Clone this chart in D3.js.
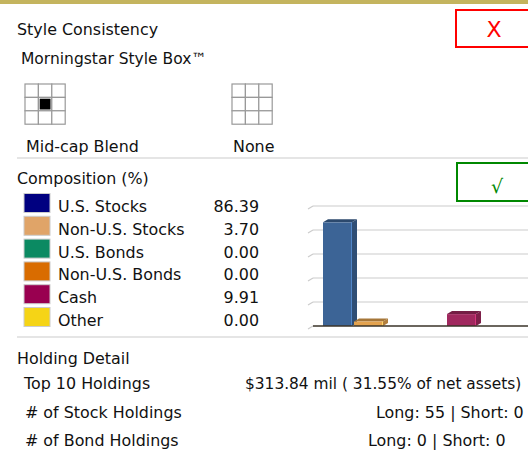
<!DOCTYPE html>
<html>
  <head>
    <meta charset="utf-8">
    <script src="https://cdn.jsdelivr.net/npm/d3@7/dist/d3.min.js"></script>
    <style>
      body { margin: 0; background: #fff; }
      text { font-family: "DejaVu Sans", Verdana, sans-serif; fill: #111; }
    </style>
  </head>
  <body>
    <script>
      const categories = ['U.S. Stocks', 'Non-U.S. Stocks', 'U.S. Bonds', 'Non-U.S. Bonds', 'Cash', 'Other'];
      const values = [86.39, 3.70, 0.00, 0.00, 9.91, 0.00];
      const legendColors = ['#000080', '#e0a468', '#0b8a62', '#d96c00', '#990050', '#f5d416'];
      const barColors = ['#3c6496', '#e3a24e', '#0b8a62', '#d96c00', '#a0285e', '#f5d416'];
      const yTicks = [0, 20, 40, 60, 80, 100];
      const styleBoxes = [{label: 'Mid-cap Blend', cell: [1, 1]}, {label: 'None', cell: null}];
      const holdingLabels = ['Top 10 Holdings', '# of Stock Holdings', '# of Bond Holdings'];
      const holdingValues = ['$313.84 mil ( 31.55% of net assets)', 'Long: 55 | Short: 0', 'Long: 0 | Short: 0'];

      const width = 528;
      const height = 460;

      const svg = d3.select('body')
        .append('svg')
        .attr('width', width)
        .attr('height', height);

      // gold top strip
      svg.append('rect')
        .attr('x', 0).attr('y', 0)
        .attr('width', width).attr('height', 4)
        .style('fill', '#c4b45e');

      const fs = '15.9px';

      svg.append('text').attr('x', 17).attr('y', 35).style('font-size', fs).text('Style Consistency');
      svg.append('rect')
        .attr('x', 456).attr('y', 10).attr('width', 80).attr('height', 37)
        .style('fill', 'none').style('stroke', '#f00').style('stroke-width', 2);
      svg.append('text').attr('x', 494).attr('y', 37).attr('text-anchor', 'middle')
        .style('font-size', '22px').style('fill', '#f00').text('X');

      svg.append('text').attr('x', 21).attr('y', 64).style('font-size', '15.5px').text('Morningstar Style Box™');

      // style boxes
      const boxX = [25, 232];
      const cell = 13.4;
      styleBoxes.forEach((b, i) => {
        const g = svg.append('g').attr('transform', `translate(${boxX[i]},84)`);
        d3.range(3).forEach(r => d3.range(3).forEach(c => {
          g.append('rect')
            .attr('x', c * cell).attr('y', r * cell)
            .attr('width', cell).attr('height', cell)
            .style('fill', '#fff').style('stroke', '#999').style('stroke-width', 1.2);
        }));
        if (b.cell) {
          g.append('rect')
            .attr('x', b.cell[0] * cell + 1.3).attr('y', b.cell[1] * cell + 1.3)
            .attr('width', cell - 2.6).attr('height', cell - 2.6)
            .style('fill', '#000');
        }
        svg.append('text').attr('x', boxX[i] + 1).attr('y', 152).style('font-size', fs).text(b.label);
      });

      const sep = y => svg.append('line')
        .attr('x1', 17).attr('x2', width).attr('y1', y).attr('y2', y)
        .style('stroke', '#dcdcdc').style('stroke-width', 1.5);
      sep(158);

      svg.append('text').attr('x', 17).attr('y', 184).style('font-size', fs).text('Composition (%)');
      svg.append('rect')
        .attr('x', 457).attr('y', 163).attr('width', 80).attr('height', 38)
        .style('fill', 'none').style('stroke', '#080').style('stroke-width', 2);
      svg.append('text').attr('x', 497).attr('y', 193).attr('text-anchor', 'middle')
        .style('font-size', '19px').style('fill', '#080').text('√');

      // legend table
      const rowY = d3.scaleBand().domain(categories).range([212, 212 + 6 * 22.8]);
      const legend = svg.selectAll('g.leg').data(categories).enter()
        .append('g').attr('class', 'leg')
        .attr('transform', d => `translate(0,${rowY(d)})`);
      legend.append('rect')
        .attr('x', 24).attr('y', -18.5).attr('width', 26).attr('height', 19)
        .style('fill', (d, i) => legendColors[i]).style('stroke', '#ccc');
      legend.append('text').attr('x', 58).attr('y', 0).style('font-size', fs).text(d => d);
      legend.append('text').attr('x', 259).attr('y', 0).attr('text-anchor', 'end')
        .style('font-size', fs).text((d, i) => values[i].toFixed(2));

      // bar chart
      const y = d3.scaleLinear().domain([0, 100]).range([326, 206]);
      const step = 31;
      const x = d3.scaleBand().domain(categories)
        .range([323, 323 + step * (6 - 2 / step)])
        .paddingInner(2 / step).paddingOuter(0);
      const dx = 5, dy = 3;

      svg.selectAll('line.grid').data(yTicks.slice(1)).enter()
        .append('line').attr('class', 'grid')
        .attr('x1', 313).attr('x2', width)
        .attr('y1', d => y(d)).attr('y2', d => y(d))
        .style('stroke', '#ccc').style('stroke-width', 1.2);
      svg.selectAll('line.tick3d').data(yTicks).enter()
        .append('line').attr('class', 'tick3d')
        .attr('x1', 308).attr('x2', 313)
        .attr('y1', d => y(d) + 3).attr('y2', d => y(d))
        .style('stroke', '#ccc').style('stroke-width', 1.2);

      const bars = svg.selectAll('g.bar').data(categories).enter()
        .append('g').attr('class', 'bar');
      const bw = x.bandwidth();
      bars.filter((d, i) => values[i] > 0).each(function(d) {
        const i = categories.indexOf(d);
        const g = d3.select(this);
        const x0 = x(d), x1 = x0 + bw, yt = y(values[i]), yb = y(0);
        const base = d3.color(barColors[i]);
        // side
        g.append('path')
          .attr('d', `M${x1},${yt} L${x1 + dx},${yt - dy} L${x1 + dx},${yb - dy} L${x1},${yb} Z`)
          .style('fill', base.darker(0.7));
        // top
        g.append('path')
          .attr('d', `M${x0},${yt} L${x0 + dx},${yt - dy} L${x1 + dx},${yt - dy} L${x1},${yt} Z`)
          .style('fill', base.darker(0.9));
        // front
        g.append('rect')
          .attr('x', x0).attr('y', yt).attr('width', bw).attr('height', yb - yt)
          .style('fill', base);
        g.append('line')
          .attr('x1', x1 - 0.5).attr('x2', x1 - 0.5).attr('y1', yt).attr('y2', yb)
          .style('stroke', base.brighter(0.8)).style('stroke-width', 1);
      });

      svg.append('line')
        .attr('x1', 313).attr('x2', width).attr('y1', y(0)).attr('y2', y(0))
        .style('stroke', '#3a3328').style('stroke-width', 1.5);

      sep(337);

      // holding detail
      svg.append('text').attr('x', 17).attr('y', 364).style('font-size', fs).text('Holding Detail');
      const holdY = [389, 418, 446];
      const holdValX = [245, 376, 368];
      holdingLabels.forEach((t, i) => {
        svg.append('text').attr('x', i === 0 ? 24 : 25).attr('y', holdY[i]).style('font-size', fs).text(t);
        svg.append('text').attr('x', holdValX[i]).attr('y', holdY[i])
          .style('font-size', i === 0 ? '15.4px' : fs).text(holdingValues[i]);
      });
    </script>
  </body>
</html>
